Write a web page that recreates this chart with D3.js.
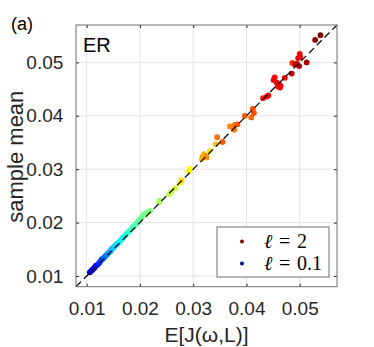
<!DOCTYPE html>
<html>
<head>
<meta charset="utf-8">
<script src="https://cdn.jsdelivr.net/npm/d3@7"></script>
<style>
  body { margin: 0; background: #fff; }
  svg text { font-family: "Liberation Sans", Arial, Helvetica, sans-serif; }
</style>
</head>
<body>
<div id="chart"></div>
<script>
// Chart size
var width = 374;
var height = 347;
var margin = { top: 25, right: 37, bottom: 60.3, left: 76 };

// Data: E[J(w,L)] (x), sample mean (y), and length scale l (colour)
var expectedJ = [
  0.0106, 0.0109, 0.0111, 0.0113, 0.0115, 0.0117, 0.0120, 0.0123, 0.0126, 0.0128,
  0.0131, 0.0133, 0.0136, 0.0139, 0.0142, 0.0145, 0.0147, 0.0150, 0.0153, 0.0156,
  0.0159, 0.0162, 0.0165, 0.0168, 0.0171, 0.0174, 0.0177, 0.0180, 0.0183, 0.0186,
  0.0189, 0.0192, 0.0195, 0.0198, 0.0201, 0.0204, 0.0207, 0.0210, 0.0213, 0.0219,
  0.0236, 0.0237, 0.0255, 0.0258, 0.0266, 0.0275, 0.0278, 0.0292, 0.0294, 0.0316,
  0.0318, 0.0320, 0.0324, 0.0325, 0.0331, 0.0342, 0.0345, 0.0355, 0.0369, 0.0377,
  0.0378, 0.0383, 0.0397, 0.0409, 0.0412, 0.0414, 0.0431, 0.0438, 0.0441, 0.0451,
  0.0453, 0.0457, 0.0459, 0.0461, 0.0463, 0.0464, 0.0472, 0.0485, 0.0486, 0.0491,
  0.0495, 0.0497, 0.0499, 0.0500, 0.0501, 0.0513, 0.0529, 0.0539
];
var sampleMean = [
  0.0107, 0.0110, 0.0112, 0.0114, 0.0116, 0.0119, 0.0121, 0.0124, 0.0128, 0.0131,
  0.0133, 0.0135, 0.0138, 0.0141, 0.0144, 0.0147, 0.0151, 0.0153, 0.0156, 0.0159,
  0.0162, 0.0165, 0.0168, 0.0172, 0.0175, 0.0178, 0.0181, 0.0184, 0.0187, 0.0191,
  0.0194, 0.0197, 0.0200, 0.0204, 0.0207, 0.0211, 0.0216, 0.0215, 0.0219, 0.0222,
  0.0238, 0.0241, 0.0253, 0.0257, 0.0264, 0.0274, 0.0279, 0.0296, 0.0301, 0.0319,
  0.0324, 0.0328, 0.0325, 0.0322, 0.0334, 0.0347, 0.0360, 0.0351, 0.0380, 0.0374,
  0.0383, 0.0384, 0.0400, 0.0397, 0.0413, 0.0405, 0.0433, 0.0436, 0.0438, 0.0467,
  0.0472, 0.0462, 0.0455, 0.0459, 0.0453, 0.0456, 0.0471, 0.0479, 0.0499, 0.0496,
  0.0497, 0.0508, 0.0493, 0.0516, 0.0510, 0.0500, 0.0542, 0.0551
];
var ellValues = [
  0.22, 0.24, 0.26, 0.28, 0.30, 0.33, 0.36, 0.40, 0.44, 0.47,
  0.50, 0.53, 0.56, 0.59, 0.62, 0.65, 0.67, 0.70, 0.72, 0.75,
  0.77, 0.79, 0.81, 0.83, 0.85, 0.87, 0.89, 0.90, 0.92, 0.94,
  0.95, 0.97, 0.98, 0.99, 1.00, 1.02, 1.03, 1.04, 1.05, 1.06,
  1.12, 1.13, 1.17, 1.18, 1.20, 1.28, 1.36, 1.33, 1.29, 1.42,
  1.45, 1.43, 1.48, 1.50, 1.34, 1.40, 1.55, 1.60, 1.52, 1.55,
  1.54, 1.62, 1.60, 1.57, 1.63, 1.62, 1.72, 1.74, 1.76, 1.77,
  1.76, 1.78, 1.78, 1.77, 1.79, 1.78, 1.80, 1.86, 1.68, 1.85,
  1.88, 1.80, 1.90, 1.78, 1.80, 1.92, 1.95, 2.00
];
var xTicks = [0.01, 0.02, 0.03, 0.04, 0.05];
var yTicks = [0.01, 0.02, 0.03, 0.04, 0.05];
var legendItems = [{ ell: 2, label: "2" }, { ell: 0.1, label: "0.1" }];

var points = expectedJ.map(function (x, i) {
  return { x: x, y: sampleMean[i], ell: ellValues[i] };
});

var svg = d3.select("#chart")
  .append("svg")
  .attr("width", width)
  .attr("height", height);

// Scales
var xScale = d3.scaleLinear()
  .domain([0.008, 0.057])
  .range([margin.left, width - margin.right]);

var yScale = d3.scaleLinear()
  .domain([0.008, 0.057])
  .range([height - margin.bottom, margin.top]);

// jet colour map over l in [0.1, 2]
var jet = d3.scaleLinear()
  .domain([0, 0.125, 0.375, 0.625, 0.875, 1])
  .range(["#00008f", "#0000ff", "#00ffff", "#ffff00", "#ff0000", "#800000"]);
var colorScale = function (ell) { return jet((ell - 0.1) / 1.9); };

var x0 = margin.left, x1 = width - margin.right;
var y0 = height - margin.bottom, y1 = margin.top;

// Grid lines
svg.append("g")
  .selectAll("line.vgrid")
  .data(xTicks)
  .enter().append("line")
  .attr("x1", function (d) { return xScale(d); })
  .attr("x2", function (d) { return xScale(d); })
  .attr("y1", y0)
  .attr("y2", y1)
  .attr("stroke", "#e3e3e3")
  .attr("stroke-width", 1);

svg.append("g")
  .selectAll("line.hgrid")
  .data(yTicks)
  .enter().append("line")
  .attr("y1", function (d) { return yScale(d); })
  .attr("y2", function (d) { return yScale(d); })
  .attr("x1", x0)
  .attr("x2", x1)
  .attr("stroke", "#e3e3e3")
  .attr("stroke-width", 1);

// Points
svg.append("g")
  .selectAll("circle")
  .data(points)
  .enter().append("circle")
  .attr("cx", function (d) { return xScale(d.x); })
  .attr("cy", function (d) { return yScale(d.y); })
  .attr("r", 2.9)
  .style("fill", function (d) { return colorScale(d.ell); });

// y = x dashed reference line
svg.append("line")
  .attr("x1", xScale(0.008))
  .attr("y1", yScale(0.008))
  .attr("x2", xScale(0.057))
  .attr("y2", yScale(0.057))
  .attr("stroke", "#000")
  .attr("stroke-width", 1.2)
  .attr("stroke-dasharray", "7,4");

// Axes (ticks inward, box on)
function styleAxis(g) {
  g.select(".domain").remove();
  g.selectAll(".tick line").attr("stroke", "#262626");
  g.selectAll("text")
    .style("font-size", "19px")
    .style("fill", "#262626");
}

svg.append("g")
  .attr("transform", "translate(0," + y0 + ")")
  .call(d3.axisBottom(xScale).tickValues(xTicks).tickSize(-3).tickPadding(14.5)
    .tickFormat(d3.format(".2f")))
  .call(styleAxis);

svg.append("g")
  .attr("transform", "translate(0," + y1 + ")")
  .call(d3.axisTop(xScale).tickValues(xTicks).tickSize(-3).tickFormat(""))
  .call(styleAxis);

svg.append("g")
  .attr("transform", "translate(" + x0 + ",0)")
  .call(d3.axisLeft(yScale).tickValues(yTicks).tickSize(-3).tickPadding(12.7)
    .tickFormat(d3.format(".2f")))
  .call(styleAxis);

svg.append("g")
  .attr("transform", "translate(" + x1 + ",0)")
  .call(d3.axisRight(yScale).tickValues(yTicks).tickSize(-3).tickFormat(""))
  .call(styleAxis);

// Frame
svg.append("rect")
  .attr("x", x0)
  .attr("y", y1)
  .attr("width", x1 - x0)
  .attr("height", y0 - y1)
  .attr("fill", "none")
  .attr("stroke", "#6e6e6e")
  .attr("stroke-width", 1);

// Legend
var legendBox = svg.append("g").attr("transform", "translate(217,227)");
legendBox.append("rect")
  .attr("width", 112)
  .attr("height", 50)
  .attr("fill", "#fff")
  .attr("stroke", "#6e6e6e")
  .attr("stroke-width", 1);

var legend = legendBox.selectAll(".legend")
  .data(legendItems)
  .enter().append("g")
  .attr("class", "legend")
  .attr("transform", function (d, i) { return "translate(0," + (14.5 + i * 22) + ")"; });

legend.append("circle")
  .attr("cx", 25)
  .attr("cy", 0)
  .attr("r", 2)
  .style("fill", function (d) { return colorScale(d.ell); });

var legendText = legend.append("text")
  .attr("x", 47)
  .attr("y", 6)
  .style("font-family", "'Liberation Serif', 'DejaVu Serif', serif")
  .style("font-size", "20px")
  .style("fill", "#000");
legendText.append("tspan")
  .style("font-style", "italic")
  .text("\u2113");
legendText.append("tspan")
  .text(function (d) { return "\u2004=\u2004" + d.label; });

// Labels
svg.append("text")
  .attr("x", 83)
  .attr("y", 52.3)
  .style("font-size", "20px")
  .style("fill", "#000")
  .text("ER");

svg.append("text")
  .attr("x", 11)
  .attr("y", 29.5)
  .style("font-size", "18px")
  .style("fill", "#000")
  .text("(a)");

svg.append("text")
  .attr("x", (x0 + x1) / 2)
  .attr("y", 341.7)
  .attr("text-anchor", "middle")
  .style("font-size", "21px")
  .style("fill", "#262626")
  .text("E[J(\u03c9,L)]");

svg.append("text")
  .attr("transform", "translate(23," + 156.7 + ") rotate(-90)")
  .attr("text-anchor", "middle")
  .style("font-size", "22px")
  .style("fill", "#262626")
  .text("sample mean");
</script>
</body>
</html>
